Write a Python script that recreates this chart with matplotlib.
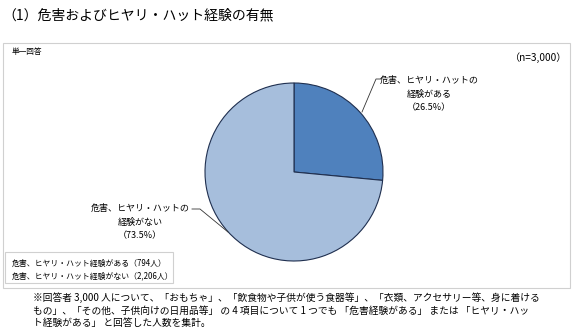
import matplotlib
matplotlib.use("Agg")
import matplotlib.pyplot as plt
from matplotlib.patches import Rectangle
from matplotlib.lines import Line2D

plt.rcParams['font.family'] = ['Noto Sans CJK JP', 'DejaVu Sans']

title = "（1）危害およびヒヤリ・ハット経験の有無"
categories = ["危害、ヒヤリ・ハットの\n経験がある\n（26.5%）", "危害、ヒヤリ・ハットの\n経験がない\n（73.5%）"]
values = [26.5, 73.5]
legend_lines = ["危害、ヒヤリ・ハット経験がある（794人）", "危害、ヒヤリ・ハット経験がない（2,206人）"]
colors = ["#4f81bd", "#a6bedc"]
footnote = ["※回答者 3,000 人について、「おもちゃ」、「飲食物や子供が使う食器等」、「衣類、アクセサリー等、身に着ける",
            "もの」、「その他、子供向けの日用品等」 の 4 項目について 1 つでも 「危害経験がある」 または 「ヒヤリ・ハッ",
            "ト経験がある」 と回答した人数を集計。"]

W, H = 580, 335
fig = plt.figure(figsize=(W / 100, H / 100), dpi=100)

def fx(x):
    return x / W

def fy(y):
    return 1 - y / H

# outer frame
fig.patches.append(Rectangle((fx(3), fy(288)), fx(567), 245 / H, transform=fig.transFigure,
                             fill=False, edgecolor="#d0d0d0", linewidth=0.8))
# legend box
fig.patches.append(Rectangle((fx(5), fy(283)), fx(168), 31 / H, transform=fig.transFigure,
                             fill=False, edgecolor="#d0d0d0", linewidth=0.8))

fig.text(fx(2), fy(15), title, fontsize=10, va="center", ha="left")
fig.text(fx(12), fy(52), "単一回答", fontsize=5.5, va="center", ha="left")
fig.text(fx(567), fy(58), "（n=3,000）", fontsize=7.3, va="center", ha="right")

# pie
cx, cy, r = 294, 172, 89
ax = fig.add_axes([fx(cx - r), fy(cy + r), 2 * r / W, 2 * r / H])
ax.pie(values, colors=colors, startangle=90, counterclock=False,
       wedgeprops=dict(edgecolor="#1f2f4f", linewidth=0.8))
ax.set_aspect("auto")
ax.set_xlim(-1, 1)
ax.set_ylim(-1, 1)

# labels
for (x, y), txt in zip([(429, 94), (140, 222)], categories):
    fig.text(fx(x), fy(y), txt, fontsize=6.5, ha="center", va="center", linespacing=1.6)

# leader lines
fig.add_artist(Line2D([fx(362), fx(376), fx(381)], [fy(112), fy(79), fy(79)],
                      transform=fig.transFigure, color="#333333", linewidth=0.6))
fig.add_artist(Line2D([fx(192), fx(200), fx(228)], [fy(209), fy(209), fy(232)],
                      transform=fig.transFigure, color="#333333", linewidth=0.6))

for i, t in enumerate(legend_lines):
    fig.text(fx(12), fy(263 + 12.5 * i), t, fontsize=5.7, ha="left", va="center")

for i, t in enumerate(footnote):
    fig.text(fx(33), fy(298 + 12.5 * i), t, fontsize=7.0, ha="left", va="center")

fig.savefig("out.png", dpi=100)
